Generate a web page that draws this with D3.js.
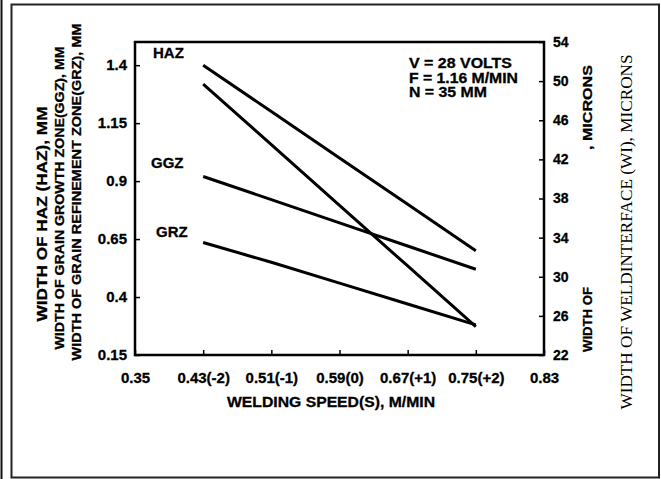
<!DOCTYPE html>
<html>
<head>
<meta charset="utf-8">
<script src="https://cdn.jsdelivr.net/npm/d3@7"></script>
<style>
  body { margin: 0; background: #fff; }
  text { font-family: "Liberation Sans", Arial, sans-serif; font-weight: bold; fill: #000; stroke: #000; stroke-width: 0.3px; }
  .serif { font-family: "Liberation Serif", "Times New Roman", serif; font-weight: normal; stroke: none; }
</style>
</head>
<body>
<script>
// welding speed levels
var speeds = [0.43, 0.51, 0.59, 0.67, 0.75];
var xTickValues = [0.35, 0.43, 0.51, 0.59, 0.67, 0.75, 0.83];
var xTickLabels = ["0.35", "0.43(-2)", "0.51(-1)", "0.59(0)", "0.67(+1)", "0.75(+2)", "0.83"];

// left axis series, mm
var haz = [1.40, 1.20, 1.00, 0.80, 0.60];
var ggz = [0.92, 0.82, 0.72, 0.62, 0.52];
var grz = [0.635, 0.55, 0.46, 0.37, 0.28];
var leftTicks = [0.15, 0.4, 0.65, 0.9, 1.15, 1.4];

// right axis series, microns
var wi = [49.7, 43.5, 37.3, 31.1, 24.9];
var rightTicks = [22, 26, 30, 34, 38, 42, 46, 50, 54];

var margin = {top: 42, left: 135},
    width = 409,
    height = 313;

var svg = d3.select("body").append("svg")
    .attr("width", 661)
    .attr("height", 479);

// page frame
svg.append("line").attr("x1", 1.5).attr("y1", 0).attr("x2", 1.5).attr("y2", 479)
    .attr("stroke", "#111").attr("stroke-width", 2);
svg.append("rect").attr("x", 11.5).attr("y", 4.5).attr("width", 647.5).attr("height", 473)
    .attr("fill", "none").attr("stroke", "#222").attr("stroke-width", 2);

var g = svg.append("g")
    .attr("transform", "translate(" + margin.left + "," + margin.top + ")");

var x = d3.scaleLinear().domain([0.35, 0.83]).range([0, width]);
var yL = d3.scaleLinear().domain([0.15, 1.5]).range([height, 0]);
var yR = d3.scaleLinear().domain([22, 54]).range([height, 0]);

var xAxis = g.append("g")
    .attr("transform", "translate(0," + height + ")")
    .call(d3.axisBottom(x).tickValues(xTickValues)
      .tickFormat(function(d, i) { return xTickLabels[i]; })
      .tickSizeInner(-5).tickSizeOuter(0).tickPadding(17));

var leftAxis = g.append("g")
    .call(d3.axisLeft(yL).tickValues(leftTicks)
      .tickFormat(function(d) { return String(d); })
      .tickSizeInner(-5).tickSizeOuter(0).tickPadding(8));

var rightAxis = g.append("g")
    .attr("transform", "translate(" + width + ",0)")
    .call(d3.axisRight(yR).tickValues(rightTicks)
      .tickSizeInner(-5).tickSizeOuter(0).tickPadding(9));

[xAxis, leftAxis, rightAxis].forEach(function(a) {
  a.select(".domain").remove();
  a.selectAll(".tick line").attr("stroke", "#000").attr("stroke-width", 1.5);
  a.selectAll(".tick text").attr("font-size", "15px")
    .style("font-family", "'Liberation Sans', Arial, sans-serif").style("font-weight", "bold");
});
rightAxis.selectAll(".tick text").attr("font-size", "14px");

// plot frame
g.append("rect")
    .attr("width", width).attr("height", height)
    .attr("fill", "none").attr("stroke", "#000").attr("stroke-width", 2.5);

var lineL = d3.line()
    .x(function(d, i) { return x(speeds[i]); })
    .y(function(d) { return yL(d); });
var lineR = d3.line()
    .x(function(d, i) { return x(speeds[i]); })
    .y(function(d) { return yR(d); });

[haz, ggz, grz].forEach(function(s) {
  g.append("path").datum(s).attr("d", lineL)
    .attr("fill", "none").attr("stroke", "#000").attr("stroke-width", 3);
});
g.append("path").datum(wi).attr("d", lineR)
    .attr("fill", "none").attr("stroke", "#000").attr("stroke-width", 3);

// series labels
var labels = [["HAZ", 153, 58], ["GGZ", 151, 168], ["GRZ", 156, 237]];
labels.forEach(function(l) {
  svg.append("text").attr("x", l[1]).attr("y", l[2]).attr("font-size", "15px").text(l[0]);
});

// conditions
var conds = [["V = 28 VOLTS", 103], ["F = 1.16 M/MIN", 109], ["N = 35 MM", 78]];
conds.forEach(function(c, i) {
  svg.append("text").attr("x", 409).attr("y", 68 + i * 14.5)
    .attr("font-size", "14.5px")
    .attr("textLength", c[1]).attr("lengthAdjust", "spacingAndGlyphs")
    .text(c[0]);
});

// x title
svg.append("text")
    .attr("x", 331).attr("y", 407)
    .style("text-anchor", "middle")
    .attr("font-size", "14.5px")
    .attr("textLength", 208).attr("lengthAdjust", "spacingAndGlyphs")
    .text("WELDING SPEED(S), M/MIN");

// left titles
var leftTitles = [["WIDTH OF HAZ (HAZ), MM", 47, 214, 215, 15],
                  ["WIDTH OF GRAIN GROWTH ZONE(GGZ), MM", 64, 198, 303, 13.5],
                  ["WIDTH OF GRAIN REFINEMENT ZONE(GRZ), MM", 81, 192, 337, 13.5]];
leftTitles.forEach(function(t) {
  svg.append("text")
    .attr("transform", "translate(" + t[1] + "," + t[2] + ") rotate(-90)")
    .style("text-anchor", "middle")
    .attr("font-size", t[4] + "px")
    .attr("textLength", t[3]).attr("lengthAdjust", "spacingAndGlyphs")
    .text(t[0]);
});

// right titles
svg.append("text")
    .attr("transform", "translate(592,352) rotate(-90)")
    .attr("font-size", "13.5px")
    .attr("textLength", 65).attr("lengthAdjust", "spacingAndGlyphs")
    .text("WIDTH OF");
svg.append("text")
    .attr("transform", "translate(592,150) rotate(-90)")
    .attr("font-size", "13.5px")
    .attr("textLength", 85).attr("lengthAdjust", "spacingAndGlyphs")
    .text(", MICRONS");
svg.append("text")
    .attr("class", "serif")
    .attr("transform", "translate(632,232) rotate(-90)")
    .style("text-anchor", "middle")
    .attr("font-size", "16px")
    .attr("textLength", 355).attr("lengthAdjust", "spacingAndGlyphs")
    .text("WIDTH OF WELDINTERFACE (WI), MICRONS");
</script>
</body>
</html>
